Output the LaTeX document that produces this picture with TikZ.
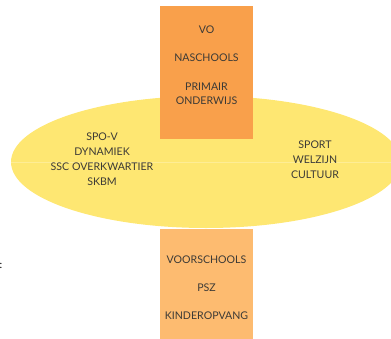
\documentclass[tikz,border=0pt]{standalone}
\usepackage{fontspec}
\setmainfont{Lato}
\usetikzlibrary{positioning}
\usetikzlibrary{shapes.geometric}
\definecolor{topfill}{HTML}{F9A04B}
\definecolor{lowfill}{HTML}{FDBB70}
\definecolor{ovalfill}{HTML}{FEE772}
\definecolor{labeltext}{HTML}{3C3A36}
\tikzset{%
  mylabel/.style={text=labeltext, font=\fontsize{10.6}{15}\selectfont, align=center, inner sep=0pt},
  mybar/.style={minimum width=93pt, inner sep=0pt, draw=none}
}

\begin{document}
\begin{tikzpicture}[x=1pt,y=-1pt]

  \useasboundingbox (0,0) rectangle (391,338);
  \begin{scope}
  \clip (0,0) rectangle (391,338);
  \node[mybar, fill=lowfill, minimum height=118pt] (low) at (206.5,288) {};
  \node[ellipse, fill=ovalfill, minimum width=390pt, minimum height=132pt, inner sep=0pt] (oval) at (206,162) {};
  \draw[ovalfill!75!white, line width=0.3pt] (oval.west) -- (oval.east);
  \node[mybar, fill=topfill, minimum height=133pt] (top) at (206.5,72.5) {};
  \end{scope}

  \node[mylabel] (vo) at (206.5,30) {VO};
  \node[mylabel] (nas) at (206.5,57.5) {NASCHOOLS};
  \node[mylabel] (prim) at (206.5,93.5) {PRIMAIR\\[-1.5pt]ONDERWIJS};

  \node[mylabel] (left) at (102,159.5) {SPO-V\\DYNAMIEK\\SSC OVERKWARTIER\\SKBM};
  \node[mylabel] (right) at (315,160) {SPORT\\WELZIJN\\CULTUUR};

  \node[mylabel] (voor) at (206.5,260) {VOORSCHOOLS};
  \node[mylabel] (psz) at (206.5,288) {PSZ};
  \node[mylabel] (kind) at (206.5,316) {KINDEROPVANG};

  \node[mylabel, text=black, anchor=center] (dots) at (1,266) {:};
\end{tikzpicture}
\end{document}
